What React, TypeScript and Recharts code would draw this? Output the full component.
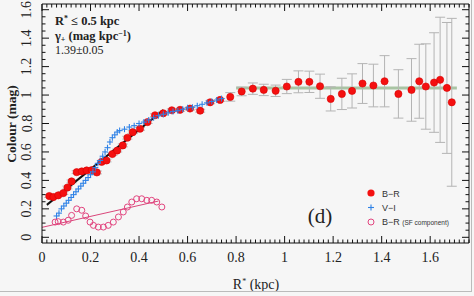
import { ComposedChart, ErrorBar, Line, Scatter, XAxis, YAxis } from "recharts";

// B-R profile (red filled circles) with errors
const brX = [0.03, 0.047, 0.067, 0.088, 0.105, 0.122, 0.143, 0.164, 0.184, 0.205,
  0.226, 0.246, 0.266, 0.29, 0.31, 0.333, 0.352, 0.374, 0.404, 0.435,
  0.466, 0.5, 0.535, 0.569, 0.61, 0.652, 0.693, 0.734, 0.776, 0.823,
  0.869, 0.914, 0.963, 1.009, 1.057, 1.102, 1.146, 1.19, 1.236, 1.278,
  1.321, 1.366, 1.412, 1.469, 1.523, 1.555, 1.582, 1.616, 1.641, 1.669,
  1.689];
const brY = [0.29, 0.283, 0.295, 0.311, 0.35, 0.393, 0.458, 0.463, 0.47, 0.472,
  0.456, 0.53, 0.54, 0.585, 0.61, 0.646, 0.7, 0.739, 0.763, 0.81,
  0.858, 0.872, 0.893, 0.896, 0.905, 0.89, 0.949, 0.966, 0.987, 1.025,
  1.045, 1.036, 1.03, 1.06, 1.093, 1.093, 1.062, 0.973, 1.008, 1.029,
  1.081, 1.067, 1.097, 1.008, 1.036, 1.097, 1.06, 1.088, 1.107, 1.05,
  0.949];
const brErr = [0.01, 0.01, 0.01, 0.01, 0.01, 0.01, 0.01, 0.01, 0.01, 0.01,
  0.01, 0.01, 0.01, 0.01, 0.01, 0.01, 0.01, 0.01, 0.01, 0.01,
  0.01, 0.01, 0.01, 0.01, 0.01, 0.01, 0.01, 0.01, 0.03, 0.03,
  0.04, 0.04, 0.04, 0.05, 0.077, 0.075, 0.085, 0.085, 0.11, 0.12,
  0.14, 0.15, 0.18, 0.17, 0.22, 0.26, 0.3, 0.35, 0.44, 0.46,
  0.59];

// V-I profile (blue crosses)
const viX = [0.06, 0.07, 0.08, 0.09, 0.1, 0.11, 0.12, 0.13, 0.14, 0.15,
  0.16, 0.17, 0.18, 0.19, 0.2, 0.21, 0.22, 0.23, 0.24, 0.25,
  0.26, 0.27, 0.28, 0.29, 0.3, 0.31, 0.32, 0.34, 0.36, 0.38,
  0.4, 0.42, 0.44, 0.46, 0.48, 0.5, 0.52, 0.54, 0.56, 0.58,
  0.6, 0.62, 0.64, 0.66, 0.68, 0.7, 0.72, 0.74];
const viY = [0.15, 0.17, 0.2, 0.22, 0.24, 0.26, 0.28, 0.3, 0.32, 0.34,
  0.36, 0.38, 0.4, 0.42, 0.44, 0.46, 0.49, 0.52, 0.54, 0.57,
  0.6, 0.63, 0.67, 0.7, 0.72, 0.74, 0.75, 0.76, 0.775, 0.785,
  0.8, 0.81, 0.825, 0.84, 0.855, 0.865, 0.875, 0.885, 0.89, 0.9,
  0.91, 0.915, 0.925, 0.935, 0.945, 0.955, 0.965, 0.975];

// B-R of the SF component (pink open circles)
const sfX = [0.054, 0.067, 0.088, 0.108, 0.122, 0.143, 0.164, 0.18, 0.198, 0.212,
  0.232, 0.253, 0.273, 0.294, 0.315, 0.335, 0.352, 0.37, 0.39, 0.411,
  0.432, 0.452, 0.473, 0.494];
const sfY = [0.107, 0.11, 0.107, 0.12, 0.154, 0.2, 0.19, 0.15, 0.107, 0.084,
  0.072, 0.072, 0.084, 0.107, 0.143, 0.178, 0.213, 0.248, 0.271, 0.271,
  0.26, 0.26, 0.248, 0.213];

// fits
const innerFitX = [0.02, 0.5];
const innerFitY = [0.228, 0.895];
const sfFitX = [0.0, 0.48];
const sfFitY = [0.07, 0.255];
const outerFitX = [0.8, 1.71];
const outerFitY = [1.05, 1.05];

const xMajor = [0, 0.2, 0.4, 0.6, 0.8, 1, 1.2, 1.4, 1.6];
const yMajor = [0, 0.2, 0.4, 0.6, 0.8, 1, 1.2, 1.4, 1.6];
const xTicks = Array.from({ length: 89 }, (_, i) => +(i * 0.02).toFixed(2));
const yTicks = Array.from({ length: 33 }, (_, i) => +(i * 0.05).toFixed(2));

const zip = (xs: number[], ys: number[]) => xs.map((x, i) => ({ x, y: ys[i] }));
const brData = brX.map((x, i) => ({ x, y: brY[i], err: brErr[i] }));
const viData = zip(viX, viY);
const sfData = zip(sfX, sfY);

const serif = "'Liberation Serif', 'DejaVu Serif', serif";
const sans = "'Liberation Sans', Arial, sans-serif";

const isMajor = (v: number, majors: number[]) => majors.some((m) => Math.abs(m - v) < 1e-6);

function BottomTick(props: any) {
  const { x, y, payload } = props;
  const major = isMajor(payload.value, xMajor);
  return (
    <g>
      <line x1={x} x2={x} y1={y} y2={y - (major ? 7 : 3.5)} stroke="#111" />
      {major && (
        <text x={x} y={y + 19} textAnchor="middle" fontFamily={serif} fontSize={14} fill="#222">
          {String(payload.value)}
        </text>
      )}
    </g>
  );
}

function TopTick(props: any) {
  const { x, y, payload } = props;
  const major = isMajor(payload.value, xMajor);
  return <line x1={x} x2={x} y1={y} y2={y + (major ? 7 : 3.5)} stroke="#111" />;
}

function LeftTick(props: any) {
  const { x, y, payload } = props;
  const major = isMajor(payload.value, yMajor);
  return (
    <g>
      <line x1={x} x2={x + (major ? 7 : 3.5)} y1={y} y2={y} stroke="#111" />
      {major && (
        <text
          x={x - 15}
          y={y}
          transform={`rotate(-90, ${x - 15}, ${y})`}
          textAnchor="middle"
          dominantBaseline="central"
          fontFamily={serif}
          fontSize={14}
          fill="#222"
        >
          {String(payload.value)}
        </text>
      )}
    </g>
  );
}

function RightTick(props: any) {
  const { x, y, payload } = props;
  const major = isMajor(payload.value, yMajor);
  return <line x1={x} x2={x - (major ? 7 : 3.5)} y1={y} y2={y} stroke="#111" />;
}

const RedDot = (p: any) => <circle cx={p.cx} cy={p.cy} r={3.6} fill="#f41010" stroke="#d80000" strokeWidth={0.6} />;
const BluePlus = (p: any) => (
  <g stroke="#2f82e6" strokeWidth={1.1}>
    <line x1={p.cx - 3} x2={p.cx + 3} y1={p.cy} y2={p.cy} />
    <line x1={p.cx} x2={p.cx} y1={p.cy - 3} y2={p.cy + 3} />
  </g>
);
const PinkRing = (p: any) => <circle cx={p.cx} cy={p.cy} r={3} fill="none" stroke="#e2457f" strokeWidth={1} />;

export default function App() {
  return (
    <div style={{ position: "relative", width: 474, height: 296, background: "#f6f6f6", overflow: "hidden" }}>
      <style>{"body{margin:0}"}</style>
      <ComposedChart width={474} height={296} margin={{ top: 0, right: 0, bottom: 0, left: 0 }}>
        <XAxis
          dataKey="x"
          type="number"
          domain={[0, 1.76]}
          allowDataOverflow
          ticks={xTicks}
          interval={0}
          height={53}
          tickSize={0}
          tickMargin={0}
          tickLine={false}
          axisLine={{ stroke: "#111" }}
          tick={<BottomTick />}
        />
        <XAxis
          xAxisId="top"
          orientation="top"
          dataKey="x"
          type="number"
          domain={[0, 1.76]}
          allowDataOverflow
          ticks={xTicks}
          interval={0}
          height={4}
          tickSize={0}
          tickMargin={0}
          tickLine={false}
          axisLine={{ stroke: "#111" }}
          tick={<TopTick />}
        />
        <YAxis
          dataKey="y"
          type="number"
          domain={[-0.04, 1.64]}
          allowDataOverflow
          ticks={yTicks}
          interval={0}
          width={42}
          tickSize={0}
          tickMargin={0}
          tickLine={false}
          axisLine={{ stroke: "#111" }}
          tick={<LeftTick />}
        />
        <YAxis
          yAxisId="right"
          orientation="right"
          dataKey="y"
          type="number"
          domain={[-0.04, 1.64]}
          allowDataOverflow
          ticks={yTicks}
          interval={0}
          width={5}
          tickSize={0}
          tickMargin={0}
          tickLine={false}
          axisLine={{ stroke: "#111" }}
          tick={<RightTick />}
        />
        <Line
          data={zip(outerFitX, outerFitY)}
          dataKey="y"
          type="linear"
          stroke="#a9c4a3"
          strokeWidth={3}
          dot={false}
          isAnimationActive={false}
        />
        <Line
          data={zip(sfFitX, sfFitY)}
          dataKey="y"
          type="linear"
          stroke="#d9467a"
          strokeWidth={1}
          dot={false}
          isAnimationActive={false}
        />
        <Scatter data={brData} dataKey="y" shape={RedDot} isAnimationActive={false}>
          <ErrorBar dataKey="err" direction="y" width={5} stroke="#b4b4b4" strokeWidth={1} />
        </Scatter>
        <Scatter data={viData} dataKey="y" shape={BluePlus} isAnimationActive={false} />
        <Scatter data={sfData} dataKey="y" shape={PinkRing} isAnimationActive={false} />
        <Line
          data={zip(innerFitX, innerFitY)}
          dataKey="y"
          type="linear"
          stroke="#111"
          strokeWidth={2}
          dot={false}
          isAnimationActive={false}
        />
      </ComposedChart>

      <svg width={474} height={296} style={{ position: "absolute", left: 0, top: 0, pointerEvents: "none" }}>
        <text x={55} y={25} fontFamily={serif} fontSize={12.5} fontWeight="bold" fill="#222">
          R<tspan dy={-4} fontSize={8}>*</tspan>
          <tspan dy={4}> ≤ 0.5 kpc</tspan>
        </text>
        <text x={55} y={39.5} fontFamily={serif} fontSize={12.5} fontWeight="bold" fill="#222">
          γ<tspan dy={2} fontSize={8}>+</tspan>
          <tspan dy={-2}> (mag kpc</tspan>
          <tspan dy={-4} fontSize={8}>−1</tspan>
          <tspan dy={4}>)</tspan>
        </text>
        <text x={55} y={54} fontFamily={serif} fontSize={12} fill="#222">
          1.39±0.05
        </text>
        <text x={320} y={223} textAnchor="middle" fontFamily={serif} fontSize={21} fill="#222">
          (d)
        </text>
        <text
          x={11}
          y={124}
          transform="rotate(-90, 11, 124)"
          textAnchor="middle"
          dominantBaseline="central"
          fontFamily={serif}
          fontSize={13.5}
          fontWeight="bold"
          fill="#222"
        >
          Colour (mag)
        </text>
        <text x={256} y={289} textAnchor="middle" fontFamily={serif} fontSize={14} fill="#222">
          R<tspan dy={-5} fontSize={8}>*</tspan>
          <tspan dy={5}> (kpc)</tspan>
        </text>

        <circle cx={371} cy={193} r={3.6} fill="#f41010" />
        <text x={382} y={196.5} fontFamily={sans} fontSize={9} fill="#333">B−R</text>
        <line x1={368} x2={374} y1={207.5} y2={207.5} stroke="#2f82e6" strokeWidth={1.1} />
        <line x1={371} x2={371} y1={204.5} y2={210.5} stroke="#2f82e6" strokeWidth={1.1} />
        <text x={382} y={210.5} fontFamily={sans} fontSize={9} fill="#333">V−I</text>
        <circle cx={371} cy={222} r={3} fill="none" stroke="#e2457f" />
        <text x={382} y={225} fontFamily={sans} fontSize={9} fill="#333">
          B−R <tspan fontSize={6.5}>(SF component)</tspan>
        </text>

        <line x1={471.5} x2={471.5} y1={0} y2={292} stroke="#bbb" />
        <line x1={0} x2={472} y1={291.5} y2={291.5} stroke="#bbb" />
      </svg>
    </div>
  );
}
